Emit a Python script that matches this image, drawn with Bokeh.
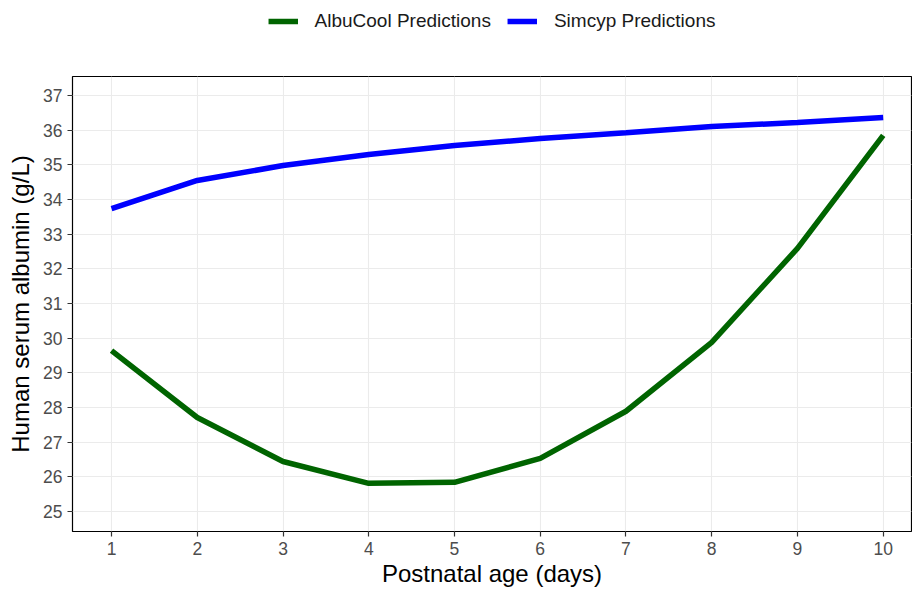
from bokeh.plotting import figure
from bokeh.models import Legend, LegendItem, FixedTicker, Range1d
from bokeh.layouts import column
from bokeh.embed import file_html
from bokeh.resources import INLINE

days = [1, 2, 3, 4, 5, 6, 7, 8, 9, 10]
albucool = [29.64, 27.71, 26.44, 25.81, 25.84, 26.53, 27.89, 29.88, 32.59, 35.85]
simcyp = [33.74, 34.55, 34.98, 35.30, 35.56, 35.76, 35.93, 36.11, 36.22, 36.37]
y_ticks = list(range(25, 38))
x_ticks = days

FONT = "Liberation Sans"
GREEN = "#006400"
BLUE = "#0000ff"

p = figure(width=912, height=547, output_backend="svg", toolbar_location=None,
           x_range=Range1d(0.545, 10.33), y_range=Range1d(24.42, 37.55),
           min_border_left=72, min_border_right=1, min_border_top=34, min_border_bottom=57)
p.outline_line_color = "black"
p.outline_line_width = 1.2
p.background_fill_color = "white"
p.border_fill_color = "white"

for ax in (p.xaxis[0], p.yaxis[0]):
    ax.axis_line_color = None
    ax.major_tick_line_color = "#333333"
    ax.major_tick_line_width = 1.2
    ax.major_tick_out = 5
    ax.major_tick_in = 0
    ax.minor_tick_line_color = None
    ax.major_label_text_font = FONT
    ax.major_label_text_font_size = "17.5px"
    ax.major_label_text_color = "#4d4d4d"
    ax.axis_label_text_font = FONT
    ax.axis_label_text_font_size = "24px"
    ax.axis_label_text_font_style = "normal"
    ax.axis_label_text_color = "black"

p.xaxis.ticker = FixedTicker(ticks=x_ticks)
p.yaxis.ticker = FixedTicker(ticks=y_ticks)
p.xaxis.axis_label = "Postnatal age (days)"
p.yaxis.axis_label = "Human serum albumin (g/L)"
p.xaxis.major_label_standoff = 5
p.yaxis.major_label_standoff = 5
p.xaxis.axis_label_standoff = 2
p.yaxis.axis_label_standoff = 6

p.xgrid.grid_line_color = "#ebebeb"
p.ygrid.grid_line_color = "#ebebeb"
p.xgrid.grid_line_width = 1.1
p.ygrid.grid_line_width = 1.1

p.line(days, albucool, line_color=GREEN, line_width=5.5)
p.line(days, simcyp, line_color=BLUE, line_width=5.5)

# legend strip above the plot
lg = figure(width=912, height=42, output_backend="svg", toolbar_location=None,
            x_range=Range1d(0, 1), y_range=Range1d(0, 1),
            min_border=0, min_border_left=12, x_axis_type=None, y_axis_type=None)
lg.outline_line_color = None
lg.grid.visible = False
lg.background_fill_color = "white"
lg.border_fill_color = "white"
l1 = lg.line(days, albucool, line_color=GREEN, line_width=5.5)
l2 = lg.line(days, simcyp, line_color=BLUE, line_width=5.5)
legend = Legend(items=[LegendItem(label="AlbuCool Predictions", renderers=[l1]),
                       LegendItem(label="Simcyp Predictions", renderers=[l2])],
                orientation="horizontal", location="center",
                label_text_font=FONT, label_text_font_size="19px", label_text_color="#1a1a1a",
                glyph_width=30, glyph_height=16, label_standoff=17, spacing=16,
                background_fill_alpha=0, border_line_color=None, padding=0, margin=0)
lg.add_layout(legend, "center")

open("out.html", "w").write(file_html(column(lg, p, spacing=0), INLINE))
